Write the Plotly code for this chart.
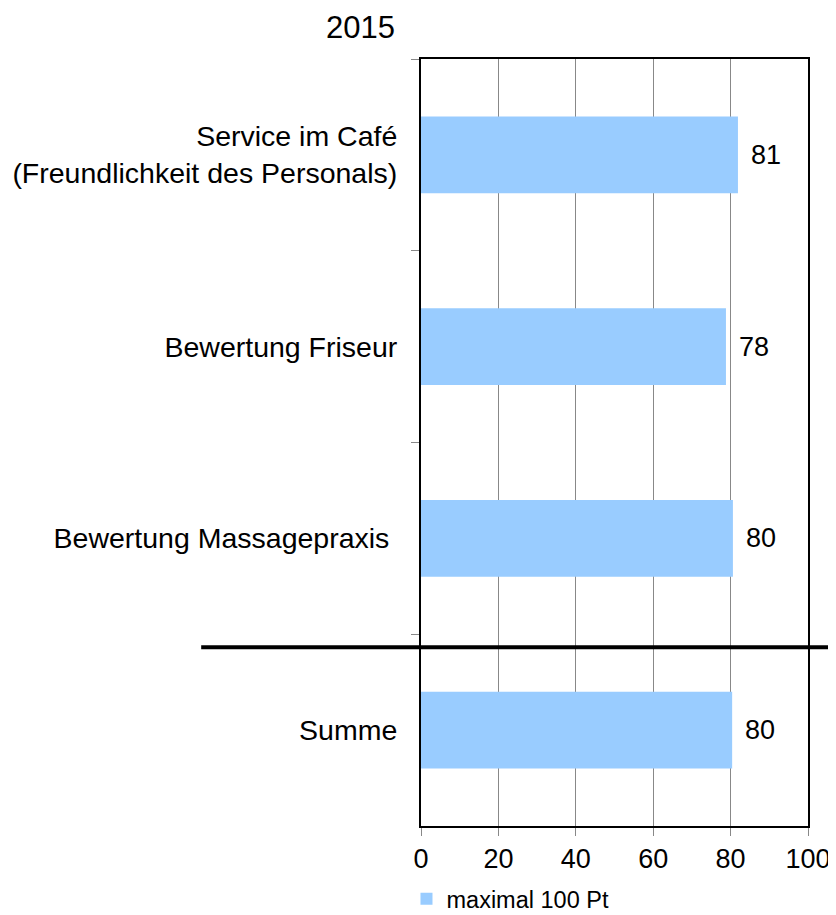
import plotly.graph_objects as go

categories = [
    "Service im Café<br>(Freundlichkeit des Personals)",
    "Bewertung Friseur",
    "Bewertung Massagepraxis\u00a0",
    "Summe",
]
values = [81.9, 78.8, 80.6, 80.4]
value_labels = ["81", "78", "80", "80"]
series_name = "maximal 100 Pt"
title_text = "2015"
x_ticks = [0, 20, 40, 60, 80, 100]

FONT = "Liberation Sans, Arial, sans-serif"
BAR_COLOR = "#99CCFF"

# the page body adds an 8px offset; figure is sized to fill the rest
OFF = 8
W, H = 836 - OFF, 915 - OFF

fig = go.Figure()
fig.add_trace(go.Bar(
    y=categories,
    x=values,
    orientation="h",
    name=series_name,
    marker=dict(color=BAR_COLOR, line=dict(width=0)),
    showlegend=True,
))

for cat, val, lab in zip(categories, values, value_labels):
    fig.add_annotation(
        x=val, y=cat, xref="x", yref="y",
        text=lab, showarrow=False,
        xanchor="left", yanchor="middle", xshift=11,
        font=dict(family=FONT, size=27, color="black"),
    )

# title
fig.add_annotation(
    x=-0.1565, y=1.0417, xref="paper", yref="paper",
    text=title_text, showarrow=False,
    xanchor="center", yanchor="middle",
    font=dict(family=FONT, size=31, color="black"),
)

# thick separator line above the sum
fig.add_shape(
    type="line", xref="paper", yref="paper",
    x0=-0.568, x1=1.1, y0=0.233, y1=0.233,
    line=dict(color="black", width=4),
)

fig.update_layout(
    width=W, height=H,
    margin=dict(l=421 - OFF, r=28, t=59 - OFF, b=89, autoexpand=False),
    paper_bgcolor="white", plot_bgcolor="white",
    bargap=0.6,
    font=dict(family=FONT, size=26, color="black"),
    legend=dict(
        orientation="h", x=-0.0375, y=-0.095, xanchor="left", yanchor="middle",
        font=dict(family=FONT, size=23.5, color="black"),
        itemwidth=30, bgcolor="rgba(0,0,0,0)",
        tracegroupgap=0,
    ),
    xaxis=dict(
        range=[0, 100], tickvals=x_ticks, ticktext=[str(t) for t in x_ticks],
        showgrid=True, gridcolor="#888888", gridwidth=1,
        showline=True, linecolor="black", linewidth=2, mirror=True,
        ticks="outside", ticklen=8, tickcolor="#888888", tickwidth=1,
        tickfont=dict(family=FONT, size=27, color="black"),
        zeroline=False, automargin=False,
    ),
    yaxis=dict(
        type="category", categoryorder="array", categoryarray=categories,
        autorange="reversed",
        tickson="boundaries",
        showgrid=False,
        showline=True, linecolor="black", linewidth=2, mirror=True,
        ticks="outside", ticklen=8, tickcolor="#888888", tickwidth=1,
        tickfont=dict(family=FONT, size=28.5, color="black"),
        ticklabelstandoff=16, automargin=False,
    ),
)

fig.write_html("out.html")
